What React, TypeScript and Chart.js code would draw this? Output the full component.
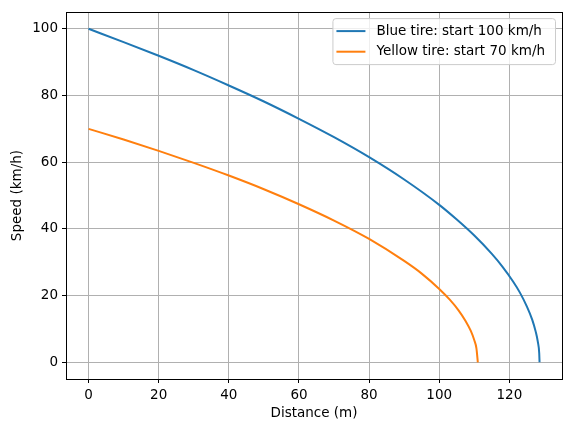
import React, { useEffect, useRef } from "react";
import { Chart, registerables } from "chart.js";

Chart.register(...registerables);

// readings taken off the reference curves
const blueDistance = [0, 10, 20, 30, 40, 50, 60, 70, 80, 90, 100, 105, 110, 115, 118, 121, 123, 125, 126.5, 127.5, 128.1, 128.5, 128.6];
const blueSpeed = [100, 96.0, 91.9, 87.6, 83.0, 78.2, 73.0, 67.5, 61.5, 54.8, 47.2, 42.8, 38.0, 32.5, 28.7, 24.3, 20.9, 16.7, 12.8, 9.2, 6.2, 2.8, 0];

const yellowDistance = [0, 10, 20, 30, 40, 50, 60, 70, 80, 90, 95, 100, 103, 105.5, 107.5, 109, 110, 110.6, 111];
const yellowSpeed = [70, 66.8, 63.4, 59.8, 56.0, 51.9, 47.4, 42.5, 37.0, 30.4, 26.6, 22.0, 18.8, 15.6, 12.4, 9.4, 6.6, 4.2, 0];

const seriesLabels = ["Blue tire: start 100 km/h", "Yellow tire: start 70 km/h"];
const seriesColors = ["#1f77b4", "#ff7f0e"];

const FONT = "'DejaVu Sans', sans-serif";
const FS = 13.5;

const toPoints = (xs: number[], ys: number[]) => xs.map((x, i) => ({ x, y: ys[i] }));

const framePlugin = {
  id: "frame",
  afterDraw(chart: any) {
    const { ctx, chartArea: a } = chart;
    ctx.save();
    ctx.strokeStyle = "#000";
    ctx.lineWidth = 1;
    ctx.strokeRect(Math.round(a.left) + 0.5, Math.round(a.top) + 0.5, Math.round(a.right - a.left), Math.round(a.bottom - a.top));

    // legend box, upper right like matplotlib
    ctx.font = `${FS}px ${FONT}`;
    const widths = chart.data.datasets.map((d: any) => ctx.measureText(d.label).width);
    const maxW = Math.max(...widths);
    const right = a.right - 7;
    const textX = right - 10 - maxW;
    const left = textX - 44;
    const top = a.top + 6;
    const rowH = 20.6;
    const bottom = top + 46;
    ctx.beginPath();
    ctx.roundRect(left + 0.5, top + 0.5, right - left, bottom - top, 3);
    ctx.fillStyle = "rgba(255,255,255,0.8)";
    ctx.fill();
    ctx.strokeStyle = "#cccccc";
    ctx.stroke();
    chart.data.datasets.forEach((d: any, i: number) => {
      const cy = top + 13 + i * rowH;
      ctx.beginPath();
      ctx.strokeStyle = d.borderColor;
      ctx.lineWidth = 2;
      ctx.moveTo(left + 4, cy);
      ctx.lineTo(left + 33, cy);
      ctx.stroke();
      ctx.fillStyle = "#000";
      ctx.textBaseline = "middle";
      ctx.textAlign = "left";
      ctx.fillText(d.label, textX, cy);
    });
    ctx.restore();
  },
};

export default function App() {
  const canvasRef = useRef<HTMLCanvasElement>(null);

  useEffect(() => {
    document.body.style.margin = "0";
    const chart = new Chart(canvasRef.current!, {
      type: "scatter",
      data: {
        datasets: [
          {
            label: seriesLabels[0],
            data: toPoints(blueDistance, blueSpeed),
            borderColor: seriesColors[0],
            backgroundColor: seriesColors[0],
            showLine: true,
            borderWidth: 2,
            pointRadius: 0,
            cubicInterpolationMode: "monotone",
          },
          {
            label: seriesLabels[1],
            data: toPoints(yellowDistance, yellowSpeed),
            borderColor: seriesColors[1],
            backgroundColor: seriesColors[1],
            showLine: true,
            borderWidth: 2,
            pointRadius: 0,
            cubicInterpolationMode: "monotone",
          },
        ],
      },
      options: {
        responsive: false,
        animation: false,
        layout: { padding: { left: 0, right: 9, top: 10, bottom: 0 } },
        plugins: {
          legend: { display: false },
          tooltip: { enabled: false },
        },
        scales: {
          x: {
            type: "linear",
            min: -6.43,
            max: 135.0,
            afterFit: (s: any) => {
              s.height = 53;
            },
            ticks: {
              stepSize: 20,
              includeBounds: false,
              color: "#000",
              padding: 4,
              maxRotation: 0,
              font: { family: FONT, size: FS },
            },
            grid: { color: "#b0b0b0", lineWidth: 1, tickColor: "#000", tickLength: 4 },
            border: { display: false },
            title: {
              display: true,
              text: "Distance (m)",
              color: "#000",
              padding: { top: 0, bottom: 10 },
              font: { family: FONT, size: FS },
            },
          },
          y: {
            type: "linear",
            min: -5,
            max: 105,
            afterFit: (s: any) => {
              s.width = 66;
            },
            ticks: {
              stepSize: 20,
              includeBounds: false,
              color: "#000",
              padding: 4,
              font: { family: FONT, size: FS },
            },
            grid: { color: "#b0b0b0", lineWidth: 1, tickColor: "#000", tickLength: 4 },
            border: { display: false },
            title: {
              display: true,
              text: "Speed (km/h)",
              color: "#000",
              padding: { top: 9, bottom: 0 },
              font: { family: FONT, size: FS },
            },
          },
        },
      },
      plugins: [framePlugin],
    });

    return () => {
      chart.destroy();
    };
  }, []);

  return (
    <div style={{ width: 571, height: 432 }}>
      <canvas ref={canvasRef} width={571} height={432} style={{ display: "block" }} />
    </div>
  );
}
